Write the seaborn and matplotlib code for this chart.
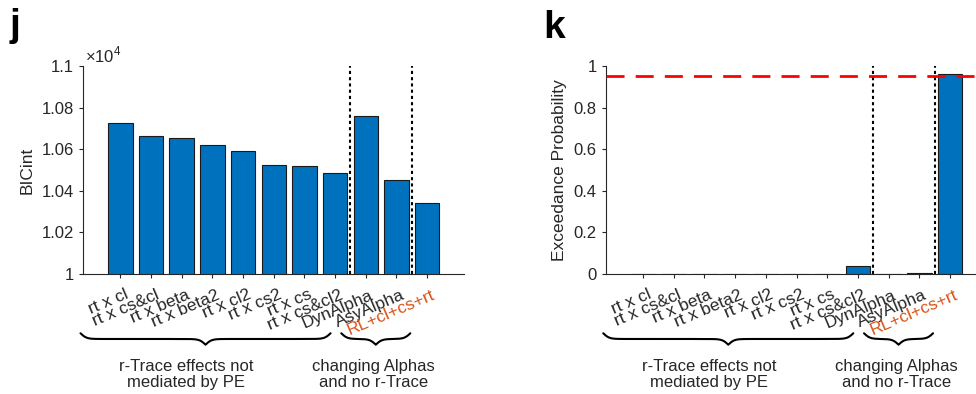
import numpy as np
import matplotlib
matplotlib.use('Agg')
import matplotlib.pyplot as plt
import matplotlib.transforms as mtransforms
import seaborn as sns

# 模型名称与两个面板的数值
models = ['rt x cl', 'rt x cs&cl', 'rt x beta', 'rt x beta2', 'rt x cl2',
          'rt x cs2', 'rt x cs', 'rt x cs&cl2', 'DynAlpha', 'AsyAlpha',
          'RL+cl+cs+rt']
bic_int = [10727, 10663, 10652, 10618, 10592, 10526, 10518, 10486,
           10758, 10453, 10343]
exceed_prob = [0.0, 0.0, 0.0, 0.0, 0.0, 0.0, 0.0, 0.04, 0.0, 0.003, 0.96]
group_names = ['r-Trace effects not\nmediated by PE',
               'changing Alphas\nand no r-Trace']

sns.set_style('ticks')
plt.rcParams['font.family'] = ['Liberation Sans', 'DejaVu Sans']
plt.rcParams['mathtext.fontset'] = 'custom'
plt.rcParams['mathtext.rm'] = 'Liberation Sans'

TXT = '#262626'
BLUE = '#0072BD'
ORANGE = '#D95319'

fig = plt.figure(figsize=(9.76, 3.94), dpi=100)
ax_j = fig.add_axes([0.085, 0.3046, 0.3904, 0.5279])
ax_k = fig.add_axes([0.6206, 0.3046, 0.3904, 0.5279])


def draw_brace(ax, x0, x1, y_top, depth):
    """在坐标轴下方画一个花括号（x 用数据坐标，y 用轴比例）"""
    trans = mtransforms.blended_transform_factory(ax.transData, ax.transAxes)
    width_px = abs(ax.transData.transform((x1, 0))[0] - ax.transData.transform((x0, 0))[0])
    beta = width_px / 3.0
    xh = np.linspace(0, 0.5, 200)
    yh = 1 / (1 + np.exp(-beta * (xh - xh[0]))) + 1 / (1 + np.exp(-beta * (xh - xh[-1])))
    yh = yh - yh[0]
    yh = yh / yh[-1]
    xs = np.concatenate([xh, 1 - xh[::-1]])
    ys = np.concatenate([yh, yh[::-1]])
    ax.plot(x0 + xs * (x1 - x0), y_top - ys * depth, color='k', lw=1.5,
            transform=trans, clip_on=False, solid_capstyle='round')


def style_axis(ax, values, ylim, yticks):
    sns.barplot(x=models, y=values, ax=ax, color=BLUE, saturation=1,
                edgecolor='#1a1a1a', linewidth=0.8, width=0.8)
    ax.set_xlim(-1.22, 11.2)
    ax.set_ylim(*ylim)
    ax.set_yticks(yticks)
    ax.set_xticks(range(len(models)))
    ax.tick_params(axis='x', direction='out', length=3, width=0.8,
                   pad=6.5, colors=TXT, labelcolor=TXT, labelsize=12.5)
    ax.set_xticklabels(models)
    shift = mtransforms.ScaledTranslation(4 / 100, 0, fig.dpi_scale_trans)
    for lab in ax.get_xticklabels():
        lab.set_rotation(23)
        lab.set_ha('right')
        lab.set_va('top')
        lab.set_rotation_mode('anchor')
        lab.set_fontsize(12.5)
        lab.set_transform(lab.get_transform() + shift)
    ax.get_xticklabels()[-1].set_color(ORANGE)
    ax.tick_params(axis='y', direction='out', length=3, width=0.8,
                   pad=3.5, colors=TXT, labelsize=12)
    ax.set_xlabel('')
    for side in ['top', 'right']:
        ax.spines[side].set_visible(False)
    for side in ['left', 'bottom']:
        ax.spines[side].set_color(TXT)
        ax.spines[side].set_linewidth(0.8)
    # 分组虚线
    for xv in [7.5, 9.5]:
        ax.axvline(xv, color='k', ls=(0, (1.5, 1.5)), lw=1.5, zorder=3)
    # 下方的花括号与分组说明
    draw_brace(ax, -1.3, 6.85, -0.285, 0.055)
    draw_brace(ax, 7.2, 9.45, -0.285, 0.055)
    trans = mtransforms.blended_transform_factory(ax.transData, ax.transAxes)
    ax.text(2.15, -0.41, group_names[0], transform=trans, ha='center',
            va='top', fontsize=12, color=TXT, linespacing=1.05)
    ax.text(8.25, -0.41, group_names[1], transform=trans, ha='center',
            va='top', fontsize=12, color=TXT, linespacing=1.05)


# j 面板：BICint
style_axis(ax_j, bic_int, (10000, 11000), np.arange(10000, 11001, 200))
ax_j.yaxis.set_major_formatter(plt.FuncFormatter(lambda v, p: f'{v / 1e4:g}'))
ax_j.set_ylabel('BICint', fontsize=12.5, color=TXT)
ax_j.yaxis.set_label_coords(-0.126, 0.5)
ax_j.text(0.005, 1.015, r'$\times10^{4}$', transform=ax_j.transAxes,
          ha='left', va='baseline', fontsize=12, color=TXT)

# k 面板：超越概率
style_axis(ax_k, exceed_prob, (0, 1), np.arange(0, 1.01, 0.2))
ax_k.yaxis.set_major_formatter(plt.FuncFormatter(lambda v, p: f'{v:g}'))
ax_k.set_ylabel('Exceedance Probability', fontsize=12.5, color=TXT)
ax_k.yaxis.set_label_coords(-0.102, 0.5)
ax_k.axhline(0.95, color='#FF0000', lw=2, ls=(0, (6.5, 4)), zorder=4)

# 面板字母
fig.text(0.010, 1 - 36 / 394, 'j', fontsize=28, fontweight='bold', color='k')
fig.text(0.557, 1 - 38 / 394, 'k', fontsize=28, fontweight='bold', color='k')

fig.savefig('out.png', dpi=100)
